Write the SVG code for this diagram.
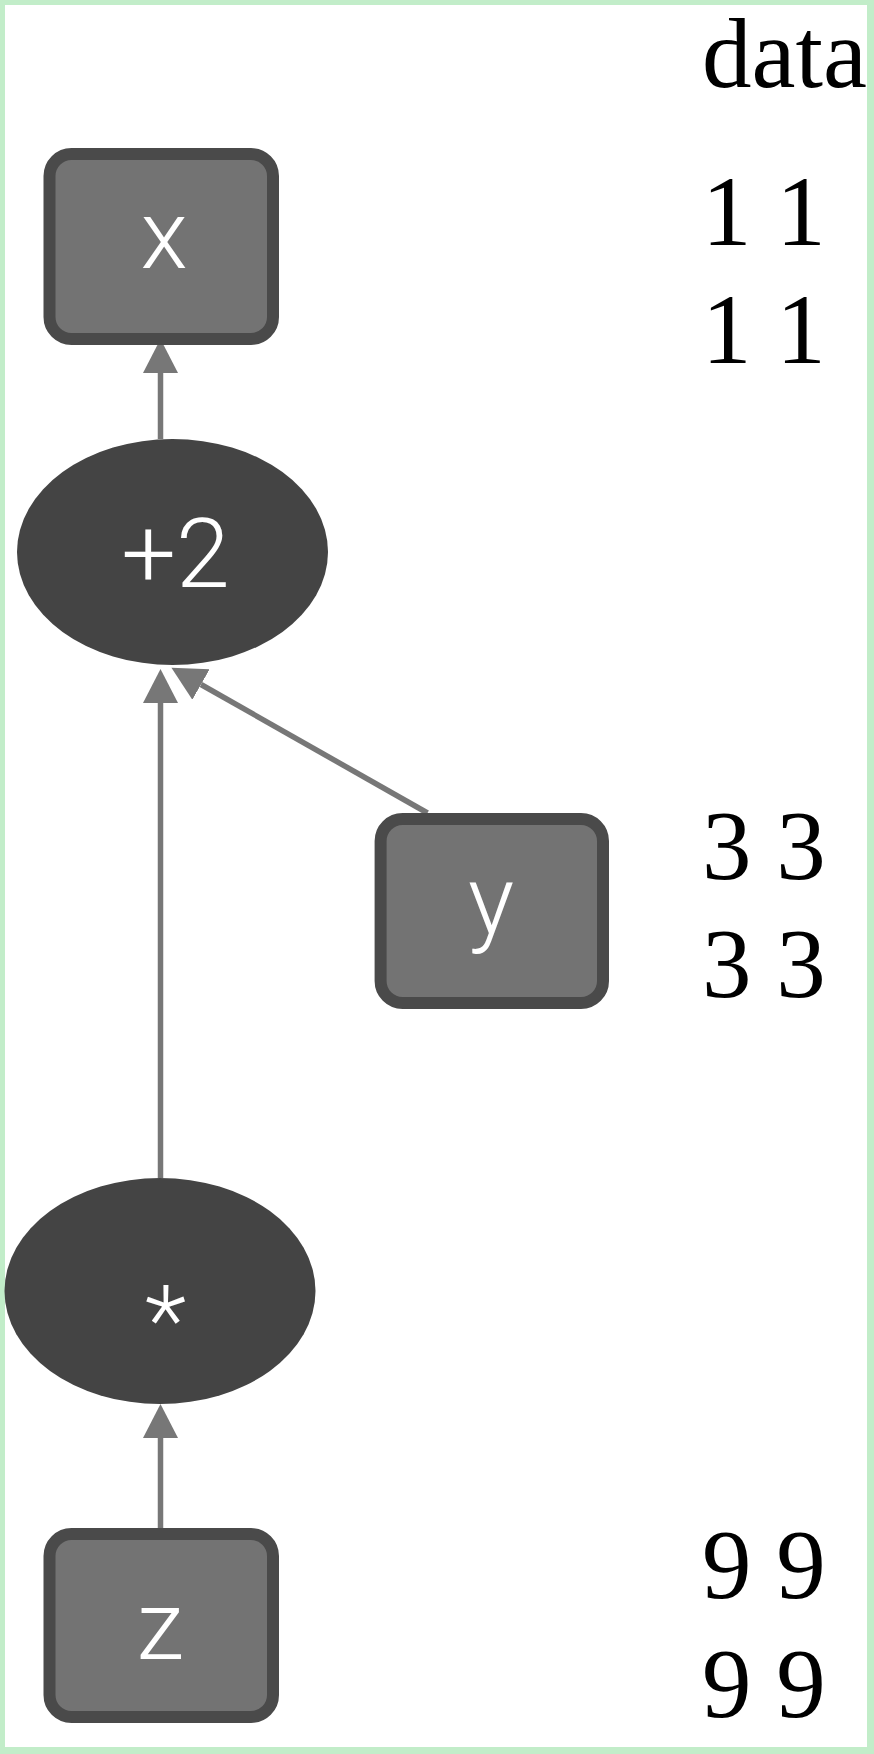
<svg xmlns="http://www.w3.org/2000/svg" width="874" height="1754" viewBox="0 0 874 1754">
  <style>
    .box { fill: #737373; stroke: #4a4a4a; stroke-width: 12; }
    .op { fill: #444444; }
    .lbl { font-family: Roboto, "Liberation Sans", sans-serif; font-weight: 300; font-size: 97px; fill: #ffffff; text-anchor: middle; }
    .data { font-family: "Liberation Serif", "Times New Roman", serif; font-size: 99px; fill: #000000; }
    .edge { stroke: #777777; stroke-width: 5.5; fill: none; marker-end: url(#arrow); }
  </style>
  <defs>
    <marker id="arrow" markerUnits="userSpaceOnUse" markerWidth="36" markerHeight="38" viewBox="0 -19 36 38" refX="0" refY="0" orient="auto">
      <path d="M0,-17.5 L34,0 L0,17.5 Z" fill="#777777"/>
    </marker>
  </defs>

  <!-- frame -->
  <path d="M0,0 H874 V1754 H0 Z M5,5 V1747 H867 V5 Z" fill="#c2edc9" fill-rule="evenodd"/>

  <!-- connectors -->
  <g id="edges">
    <line class="edge" x1="160.5" y1="439" x2="160.5" y2="373"/>
    <line class="edge" x1="160.5" y1="1178" x2="160.5" y2="703"/>
    <line class="edge" x1="427.5" y1="813" x2="201" y2="684.5"/>
    <line class="edge" x1="160.5" y1="1537" x2="160.5" y2="1438"/>
  </g>

  <g id="node-x">
    <rect class="box" x="49.5" y="154" width="223.5" height="185" rx="22"/>
    <text class="lbl" x="164" y="268">x</text>
  </g>

  <g id="node-plus2">
    <ellipse class="op" cx="172.5" cy="552" rx="155.5" ry="113"/>
    <text class="lbl" x="175.5" y="587">+2</text>
  </g>

  <g id="node-y">
    <rect class="box" x="380.6" y="819" width="222.4" height="184" rx="22"/>
    <text class="lbl" x="491" y="933">y</text>
  </g>

  <g id="node-mul">
    <ellipse class="op" cx="160" cy="1291" rx="155.5" ry="113"/>
    <text class="lbl" x="165.5" y="1354">*</text>
  </g>

  <g id="node-z">
    <rect class="box" x="49.5" y="1534" width="223.5" height="183" rx="22"/>
    <text class="lbl" x="160" y="1659">z</text>
  </g>

  <!-- data column -->
  <g id="data">
    <text class="data" x="702" y="87">data</text>
    <text class="data" x="702" y="245">1 1</text>
    <text class="data" x="702" y="363">1 1</text>
    <text class="data" x="702" y="879">3 3</text>
    <text class="data" x="702" y="997">3 3</text>
    <text class="data" x="702" y="1598">9 9</text>
    <text class="data" x="702" y="1717">9 9</text>
  </g>
</svg>
